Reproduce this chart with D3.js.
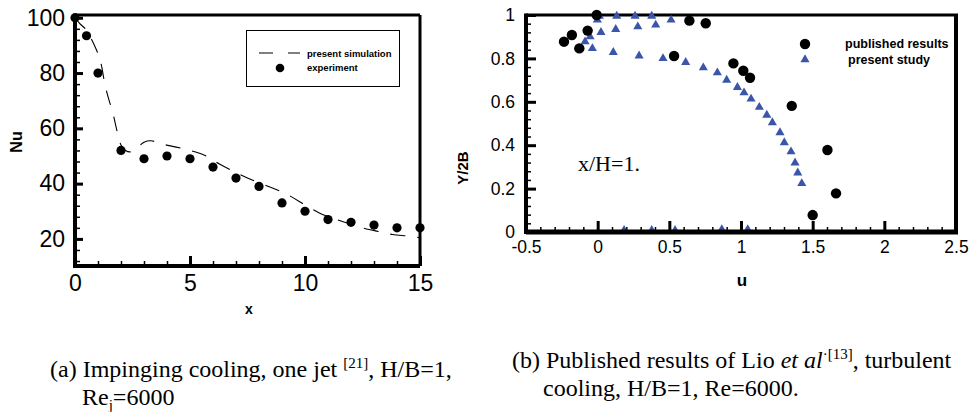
<!DOCTYPE html>
<html><head><meta charset="utf-8">
<script src="https://cdn.jsdelivr.net/npm/d3@7"></script>
<style>
html,body{margin:0;padding:0;background:#fff;}
svg{display:block;}
</style></head>
<body>
<svg id="c" width="975" height="412"></svg>
<script>
// ---- Data: panel (a) ----
const simX  = [0,0.2,0.5,0.7,0.9,1.1,1.3,1.45,1.65,1.8,2.0,2.2,2.4,2.7,3.0,3.3,3.8,4.4,5.0,5.7,6.3,7.0,7.5,8.2,8.8,9.4,10.0,10.6,11.2,12.1,12.5,13.2,13.8,14.5,15.0];
const simNu = [100,98,95.5,92.5,89,84.5,76,71,65.5,60,54,52,51.5,53,55,55.5,54.3,53.2,52,50,47,44,42,39.7,37.7,35.3,32.3,29.5,27.5,25,24,22.7,21.6,21,20.4];
const expX  = [0,0.5,1,2,3,4,5,6,7,8,9,10,11,12,13,14,15];
const expNu = [100,93.5,80,52,49,50,49,46,42,39,33,30,27,26,25,24,24];
const xTicksA = [0,5,10,15];
const yTicksA = [20,40,60,80,100];
const legendA = ["present simulation","experiment"];
// ---- Data: panel (b) ----
const pubU = [-0.235,-0.18,-0.128,-0.07,-0.007,0.533,0.64,0.754,0.947,1.016,1.063,1.354,1.5,1.603,1.663];
const pubY = [0.877,0.908,0.846,0.928,1.0,0.811,0.974,0.962,0.777,0.743,0.711,0.581,0.078,0.378,0.178];
const preU = [-0.088,-0.053,-0.037,-0.002,0.012,0.023,0.109,0.126,0.133,0.261,0.28,0.289,0.377,0.405,0.456,0.512,0.614,0.737,0.835,0.9,0.975,1.021,1.07,1.128,1.18,1.219,1.272,1.302,1.349,1.377,1.396,1.424,0.184,0.377,0.54,0.866,1.047];
const preY = [0.877,0.9,0.846,0.977,0.995,0.92,0.828,0.934,0.995,0.995,0.946,0.812,0.995,0.954,0.8,0.977,0.782,0.757,0.734,0.7,0.667,0.642,0.613,0.575,0.539,0.504,0.458,0.412,0.37,0.319,0.273,0.224,0.008,0.008,0.008,0.012,0.012];
const xTicksB = [-0.5,0,0.5,1,1.5,2,2.5];
const yTicksB = [0,0.2,0.4,0.6,0.8,1];
const legendB = ["published results","present study"];

const svg = d3.select("#c");
const SANS = "'Liberation Sans', Arial, Helvetica, sans-serif";
const SERIF = "'Liberation Serif', 'Times New Roman', serif";

// ================= Panel (a) =================
const xa = d3.scaleLinear().domain([0,15]).range([75,420]);
const ya = d3.scaleLinear().domain([10.2,101]).range([266,15]);
const ga = svg.append("g");

function styleAxis(g, w){
  g.select(".domain").remove();
  g.selectAll(".tick line").attr("stroke","#000").attr("stroke-width",w);
}
// minor ticks
ga.append("g").attr("transform",`translate(0,${ya.range()[0]})`)
  .call(d3.axisBottom(xa).tickValues(d3.range(0,15.01,1)).tickSizeInner(-5).tickSizeOuter(0).tickFormat(""))
  .call(g=>styleAxis(g,1.5));
ga.append("g").attr("transform",`translate(${xa.range()[0]},0)`)
  .call(d3.axisLeft(ya).tickValues(d3.range(12,101,4)).tickSizeInner(-5).tickSizeOuter(0).tickFormat(""))
  .call(g=>styleAxis(g,1.5));
// major ticks + labels
ga.append("g").attr("transform",`translate(0,${ya.range()[0]})`)
  .call(d3.axisBottom(xa).tickValues(xTicksA).tickSizeInner(-10).tickSizeOuter(0).tickPadding(9).tickFormat(d3.format("d")))
  .call(g=>{styleAxis(g,3); g.selectAll("text").attr("font-family",SANS).attr("font-size",23).attr("fill","#000");});
ga.append("g").attr("transform",`translate(${xa.range()[0]},0)`)
  .call(d3.axisLeft(ya).tickValues(yTicksA).tickSizeInner(-8).tickSizeOuter(0).tickPadding(10).tickFormat(d3.format("d")))
  .call(g=>{styleAxis(g,3); g.selectAll("text").attr("font-family",SANS).attr("font-size",23).attr("fill","#000");});
// frame
ga.append("line").attr("x1",xa.range()[0]).attr("x2",xa.range()[1]).attr("y1",ya.range()[1]).attr("y2",ya.range()[1]).attr("stroke","#000").attr("stroke-width",3);
ga.append("line").attr("x1",xa.range()[1]).attr("x2",xa.range()[1]).attr("y1",ya.range()[1]).attr("y2",ya.range()[0]).attr("stroke","#000").attr("stroke-width",3);
ga.append("line").attr("x1",xa.range()[0]).attr("x2",xa.range()[1]).attr("y1",ya.range()[0]).attr("y2",ya.range()[0]).attr("stroke","#000").attr("stroke-width",4);
ga.append("line").attr("x1",xa.range()[0]).attr("x2",xa.range()[0]).attr("y1",ya.range()[1]-1.5).attr("y2",ya.range()[0]+2).attr("stroke","#000").attr("stroke-width",4);

// simulation line
const simData = simX.map((x,i)=>({x, y: simNu[i]}));
ga.append("path").datum(simData)
  .attr("d", d3.line().x(d=>xa(d.x)).y(d=>ya(d.y)).curve(d3.curveCatmullRom))
  .attr("fill","none").attr("stroke","#000").attr("stroke-width",1.1).attr("stroke-dasharray","15,12");
// experiment dots
ga.selectAll("circle.exp").data(expX.map((x,i)=>({x, y: expNu[i]}))).join("circle")
  .attr("cx",d=>xa(d.x)).attr("cy",d=>ya(d.y)).attr("r",4.6).attr("fill","#000");

// legend
ga.append("rect").attr("x",246.5).attr("y",30.5).attr("width",153).attr("height",56).attr("fill","#fff").attr("stroke","#000").attr("stroke-width",1);
ga.append("line").attr("x1",259).attr("x2",300).attr("y1",53).attr("y2",53).attr("stroke","#000").attr("stroke-width",1.2).attr("stroke-dasharray","14,15");
ga.append("circle").attr("cx",280).attr("cy",68).attr("r",4.3).attr("fill","#000");
ga.selectAll("text.leg").data(legendA).join("text")
  .attr("x",307).attr("y",(d,i)=>54+i*14).attr("dy","0.35em")
  .attr("font-family",SANS).attr("font-weight","bold").attr("font-size",9.5).text(d=>d);

// axis titles
ga.append("text").attr("x",249).attr("y",309).attr("dy","0.35em").attr("text-anchor","middle")
  .attr("font-family",SANS).attr("font-weight","bold").attr("font-size",14).text("x");
ga.append("text").attr("transform","translate(16,142) rotate(-90)").attr("dy","0.35em").attr("text-anchor","middle")
  .attr("font-family",SANS).attr("font-weight","bold").attr("font-size",16).text("Nu");

// ================= Panel (b) =================
const xb = d3.scaleLinear().domain([-0.5,2.5]).range([526,956]);
const yb = d3.scaleLinear().domain([0,1]).range([232,15]);
const gb = svg.append("g");

gb.append("g").attr("transform",`translate(0,${yb.range()[0]})`)
  .call(d3.axisBottom(xb).tickValues(d3.range(-5,26,1).map(v=>v/10)).tickSizeInner(-5).tickSizeOuter(0).tickFormat(""))
  .call(g=>styleAxis(g,1.5));
gb.append("g").attr("transform",`translate(${xb.range()[0]},0)`)
  .call(d3.axisLeft(yb).tickValues(d3.range(0,26,1).map(v=>v*0.04)).tickSizeInner(-5).tickSizeOuter(0).tickFormat(""))
  .call(g=>styleAxis(g,1.5));
gb.append("g").attr("transform",`translate(0,${yb.range()[0]})`)
  .call(d3.axisBottom(xb).tickValues(xTicksB).tickSizeInner(-11).tickSizeOuter(0).tickPadding(9).tickFormat(d=>String(d)))
  .call(g=>{styleAxis(g,3); g.selectAll("text").attr("font-family",SANS).attr("font-size",17.5).attr("fill","#000");});
gb.append("g").attr("transform",`translate(${xb.range()[0]},0)`)
  .call(d3.axisLeft(yb).tickValues(yTicksB).tickSizeInner(-10).tickSizeOuter(0).tickPadding(11).tickFormat(d=>String(d)))
  .call(g=>{styleAxis(g,3); g.selectAll("text").attr("font-family",SANS).attr("font-size",17.5).attr("fill","#000");});
gb.append("line").attr("x1",xb.range()[0]).attr("x2",xb.range()[1]+2).attr("y1",yb.range()[1]).attr("y2",yb.range()[1]).attr("stroke","#000").attr("stroke-width",3);
gb.append("line").attr("x1",xb.range()[1]).attr("x2",xb.range()[1]).attr("y1",yb.range()[1]).attr("y2",yb.range()[0]).attr("stroke","#000").attr("stroke-width",4);
gb.append("line").attr("x1",xb.range()[0]).attr("x2",xb.range()[0]).attr("y1",yb.range()[1]-1.5).attr("y2",yb.range()[0]+2).attr("stroke","#000").attr("stroke-width",4);

const tri = d3.symbol().type(d3.symbolTriangle).size(36);
const BLUE = "#3b55a9";
gb.selectAll("path.pre").data(preU.map((u,i)=>({u, y: preY[i]}))).join("path")
  .attr("d",tri).attr("transform",d=>`translate(${xb(d.u)},${yb(d.y)})`).attr("fill",BLUE);
gb.selectAll("circle.pub").data(pubU.map((u,i)=>({u, y: pubY[i]}))).join("circle")
  .attr("cx",d=>xb(d.u)).attr("cy",d=>yb(d.y)).attr("r",5.2).attr("fill","#000");
// bottom axis on top of marks
gb.append("line").attr("x1",xb.range()[0]).attr("x2",xb.range()[1]+2).attr("y1",yb.range()[0]).attr("y2",yb.range()[0]).attr("stroke","#000").attr("stroke-width",5);

// legend
gb.append("circle").attr("cx",805).attr("cy",44).attr("r",5.2).attr("fill","#000");
gb.append("path").attr("d",tri).attr("transform","translate(805,59.5)").attr("fill",BLUE);
gb.selectAll("text.leg").data(legendB).join("text")
  .attr("x",(d,i)=>i===0?845:848).attr("y",(d,i)=>44+i*16).attr("dy","0.35em")
  .attr("font-family",SANS).attr("font-weight","bold").attr("font-size",12.5).text(d=>d);

gb.append("text").attr("x",578).attr("y",163).attr("dy","0.35em")
  .attr("font-family",SERIF).attr("font-size",22).text("x/H=1.");

gb.append("text").attr("x",742).attr("y",280).attr("dy","0.35em").attr("text-anchor","middle")
  .attr("font-family",SANS).attr("font-weight","bold").attr("font-size",17).text("u");
gb.append("text").attr("transform","translate(463,168) rotate(-90)").attr("dy","0.35em").attr("text-anchor","middle")
  .attr("font-family",SANS).attr("font-weight","bold").attr("font-size",15).text("Y/2B");

// ================= Captions =================
const cap = svg.append("g").attr("font-family",SERIF).attr("font-size",24).attr("fill","#000");
let t = cap.append("text").attr("x",50).attr("y",377);
t.append("tspan").text("(a) Impinging cooling, one jet ");
t.append("tspan").attr("font-size",15).attr("dy",-9).text("[21]");
t.append("tspan").attr("dy",9).text(", H/B=1,");
t = cap.append("text").attr("x",82).attr("y",405);
t.append("tspan").text("Re");
t.append("tspan").attr("font-size",15).attr("dy",5).text("j");
t.append("tspan").attr("dy",-5).text("=6000");

t = cap.append("text").attr("x",512).attr("y",368);
t.append("tspan").text("(b) Published results of Lio ");
t.append("tspan").attr("font-style","italic").text("et al");
t.append("tspan").attr("font-size",15).attr("dy",-9).text("·[13]");
t.append("tspan").attr("dy",9).text(", turbulent");
t = cap.append("text").attr("x",543).attr("y",396);
t.append("tspan").text("cooling, H/B=1, Re=6000.");
</script>
</body></html>
